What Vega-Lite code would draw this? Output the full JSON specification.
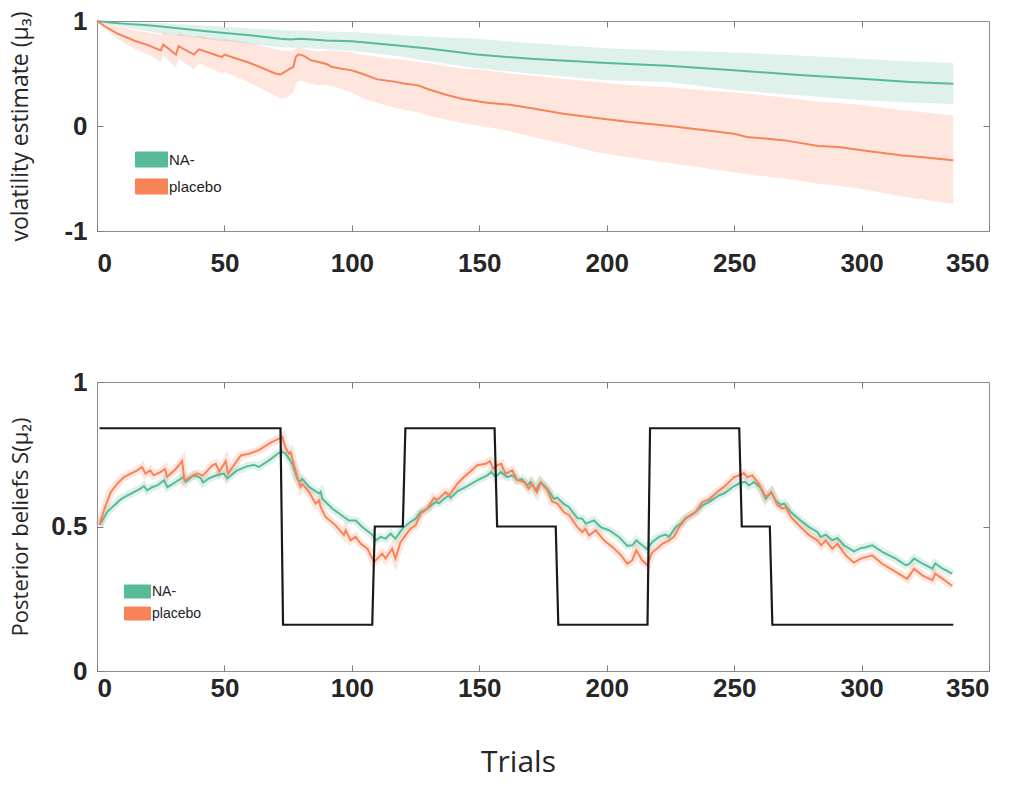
{
"$schema": "https://vega.github.io/schema/vega-lite/v6.json",
"padding": {"left": 8, "top": 7, "right": 0, "bottom": 0},
"background": "white",
"bounds": "flush",
"spacing": 151,
"resolve": {"legend": {"color": "independent"}},
"config": {
  "view": {"stroke": "#8c8c8c", "strokeWidth": 1},
  "axis": {"grid": false, "domain": false, "tickColor": "#7a7a7a", "tickSize": -6, "tickWidth": 1,
    "labelFont": "Liberation Sans", "labelFontWeight": "bold", "labelFontSize": 26, "labelColor": "#262626",
    "titleFont": "Open Sans", "titleFontWeight": "normal", "titleColor": "#262626"}
},
"datasets": {
"top": [
{"t":0,"g":"NA-","m":1,"lo":1,"hi":1},
{"t":5,"g":"NA-","m":0.985,"lo":0.97,"hi":0.995},
{"t":10,"g":"NA-","m":0.975,"lo":0.945,"hi":0.99},
{"t":20,"g":"NA-","m":0.96,"lo":0.9,"hi":0.985},
{"t":30,"g":"NA-","m":0.935,"lo":0.865,"hi":0.975},
{"t":40,"g":"NA-","m":0.91,"lo":0.835,"hi":0.96},
{"t":50,"g":"NA-","m":0.885,"lo":0.81,"hi":0.945},
{"t":60,"g":"NA-","m":0.864,"lo":0.78,"hi":0.93},
{"t":72,"g":"NA-","m":0.83,"lo":0.75,"hi":0.915},
{"t":76,"g":"NA-","m":0.825,"lo":0.745,"hi":0.91},
{"t":80,"g":"NA-","m":0.83,"lo":0.745,"hi":0.91},
{"t":90,"g":"NA-","m":0.815,"lo":0.73,"hi":0.9},
{"t":100,"g":"NA-","m":0.806,"lo":0.715,"hi":0.895},
{"t":117,"g":"NA-","m":0.768,"lo":0.67,"hi":0.87},
{"t":130,"g":"NA-","m":0.737,"lo":0.62,"hi":0.85},
{"t":149,"g":"NA-","m":0.68,"lo":0.55,"hi":0.83},
{"t":170,"g":"NA-","m":0.641,"lo":0.5,"hi":0.79},
{"t":200,"g":"NA-","m":0.6,"lo":0.435,"hi":0.74},
{"t":224,"g":"NA-","m":0.573,"lo":0.42,"hi":0.72},
{"t":250,"g":"NA-","m":0.53,"lo":0.34,"hi":0.7},
{"t":277,"g":"NA-","m":0.483,"lo":0.29,"hi":0.67},
{"t":300,"g":"NA-","m":0.45,"lo":0.245,"hi":0.64},
{"t":319,"g":"NA-","m":0.42,"lo":0.225,"hi":0.615},
{"t":336,"g":"NA-","m":0.403,"lo":0.21,"hi":0.6},
{"t":0,"g":"placebo","m":1,"lo":1,"hi":1},
{"t":3,"g":"placebo","m":0.95,"lo":0.93,"hi":0.98},
{"t":8,"g":"placebo","m":0.88,"lo":0.83,"hi":0.95},
{"t":15,"g":"placebo","m":0.81,"lo":0.73,"hi":0.91},
{"t":20,"g":"placebo","m":0.77,"lo":0.68,"hi":0.89},
{"t":25,"g":"placebo","m":0.72,"lo":0.61,"hi":0.87},
{"t":26,"g":"placebo","m":0.775,"lo":0.67,"hi":0.89},
{"t":31,"g":"placebo","m":0.68,"lo":0.56,"hi":0.86},
{"t":32,"g":"placebo","m":0.76,"lo":0.64,"hi":0.88},
{"t":38,"g":"placebo","m":0.68,"lo":0.54,"hi":0.85},
{"t":40,"g":"placebo","m":0.73,"lo":0.6,"hi":0.86},
{"t":49,"g":"placebo","m":0.657,"lo":0.5,"hi":0.82},
{"t":50,"g":"placebo","m":0.68,"lo":0.52,"hi":0.83},
{"t":60,"g":"placebo","m":0.6,"lo":0.41,"hi":0.79},
{"t":70,"g":"placebo","m":0.5,"lo":0.29,"hi":0.73},
{"t":72,"g":"placebo","m":0.49,"lo":0.26,"hi":0.72},
{"t":74,"g":"placebo","m":0.52,"lo":0.27,"hi":0.72},
{"t":76,"g":"placebo","m":0.55,"lo":0.3,"hi":0.72},
{"t":77,"g":"placebo","m":0.56,"lo":0.32,"hi":0.72},
{"t":78,"g":"placebo","m":0.657,"lo":0.4,"hi":0.74},
{"t":79,"g":"placebo","m":0.683,"lo":0.43,"hi":0.75},
{"t":81,"g":"placebo","m":0.67,"lo":0.43,"hi":0.74},
{"t":84,"g":"placebo","m":0.626,"lo":0.4,"hi":0.72},
{"t":87,"g":"placebo","m":0.61,"lo":0.39,"hi":0.71},
{"t":90,"g":"placebo","m":0.59,"lo":0.39,"hi":0.72},
{"t":92,"g":"placebo","m":0.565,"lo":0.38,"hi":0.72},
{"t":96,"g":"placebo","m":0.546,"lo":0.35,"hi":0.71},
{"t":100,"g":"placebo","m":0.53,"lo":0.32,"hi":0.7},
{"t":104,"g":"placebo","m":0.498,"lo":0.27,"hi":0.68},
{"t":110,"g":"placebo","m":0.444,"lo":0.22,"hi":0.66},
{"t":116,"g":"placebo","m":0.425,"lo":0.18,"hi":0.64},
{"t":121,"g":"placebo","m":0.403,"lo":0.15,"hi":0.63},
{"t":126,"g":"placebo","m":0.387,"lo":0.13,"hi":0.61},
{"t":130,"g":"placebo","m":0.35,"lo":0.1,"hi":0.6},
{"t":137,"g":"placebo","m":0.298,"lo":0.06,"hi":0.57},
{"t":143,"g":"placebo","m":0.26,"lo":0.03,"hi":0.55},
{"t":153,"g":"placebo","m":0.222,"lo":-0.01,"hi":0.53},
{"t":162,"g":"placebo","m":0.203,"lo":-0.05,"hi":0.5},
{"t":170,"g":"placebo","m":0.171,"lo":-0.1,"hi":0.48},
{"t":183,"g":"placebo","m":0.117,"lo":-0.17,"hi":0.45},
{"t":196,"g":"placebo","m":0.076,"lo":-0.25,"hi":0.42},
{"t":209,"g":"placebo","m":0.038,"lo":-0.3,"hi":0.39},
{"t":224,"g":"placebo","m":0.003,"lo":-0.35,"hi":0.37},
{"t":250,"g":"placebo","m":-0.073,"lo":-0.44,"hi":0.32},
{"t":255,"g":"placebo","m":-0.105,"lo":-0.46,"hi":0.31},
{"t":270,"g":"placebo","m":-0.137,"lo":-0.5,"hi":0.27},
{"t":283,"g":"placebo","m":-0.19,"lo":-0.55,"hi":0.23},
{"t":291,"g":"placebo","m":-0.2,"lo":-0.57,"hi":0.22},
{"t":300,"g":"placebo","m":-0.23,"lo":-0.6,"hi":0.2},
{"t":316,"g":"placebo","m":-0.28,"lo":-0.67,"hi":0.15},
{"t":321,"g":"placebo","m":-0.29,"lo":-0.69,"hi":0.14},
{"t":336,"g":"placebo","m":-0.327,"lo":-0.74,"hi":0.1}
],
"bot": [
{"t":1,"g":"NA-","m":0.505},{"t":4,"g":"NA-","m":0.55},{"t":6.7,"g":"NA-","m":0.573},{"t":9.3,"g":"NA-","m":0.594},
{"t":12,"g":"NA-","m":0.608},{"t":14.5,"g":"NA-","m":0.619},{"t":17,"g":"NA-","m":0.631},{"t":18.4,"g":"NA-","m":0.64},
{"t":19.7,"g":"NA-","m":0.625},{"t":21.6,"g":"NA-","m":0.636},{"t":23.7,"g":"NA-","m":0.642},{"t":26.3,"g":"NA-","m":0.66},
{"t":27.6,"g":"NA-","m":0.636},{"t":30.9,"g":"NA-","m":0.654},{"t":33.9,"g":"NA-","m":0.671},{"t":34.8,"g":"NA-","m":0.654},
{"t":38.1,"g":"NA-","m":0.679},{"t":40.7,"g":"NA-","m":0.667},{"t":41.6,"g":"NA-","m":0.652},{"t":44,"g":"NA-","m":0.667},
{"t":47.5,"g":"NA-","m":0.679},{"t":49.8,"g":"NA-","m":0.683},{"t":51.1,"g":"NA-","m":0.667},{"t":55,"g":"NA-","m":0.694},
{"t":59,"g":"NA-","m":0.709},{"t":61.6,"g":"NA-","m":0.713},{"t":63.5,"g":"NA-","m":0.706},{"t":67.5,"g":"NA-","m":0.729},
{"t":71.4,"g":"NA-","m":0.755},{"t":72.7,"g":"NA-","m":0.758},{"t":74,"g":"NA-","m":0.752},{"t":75.3,"g":"NA-","m":0.735},
{"t":76.6,"g":"NA-","m":0.717},{"t":78.6,"g":"NA-","m":0.665},{"t":79.4,"g":"NA-","m":0.654},{"t":80.5,"g":"NA-","m":0.665},
{"t":83.2,"g":"NA-","m":0.637},{"t":87.1,"g":"NA-","m":0.614},{"t":87.8,"g":"NA-","m":0.62},{"t":88.4,"g":"NA-","m":0.596},
{"t":92.3,"g":"NA-","m":0.562},{"t":96.9,"g":"NA-","m":0.533},{"t":98.8,"g":"NA-","m":0.521},{"t":101.5,"g":"NA-","m":0.521},
{"t":104.1,"g":"NA-","m":0.498},{"t":108,"g":"NA-","m":0.472},{"t":109.4,"g":"NA-","m":0.452},{"t":111.3,"g":"NA-","m":0.464},
{"t":113.2,"g":"NA-","m":0.458},{"t":115.2,"g":"NA-","m":0.475},{"t":117.1,"g":"NA-","m":0.458},{"t":119.8,"g":"NA-","m":0.492},
{"t":122.4,"g":"NA-","m":0.512},{"t":125,"g":"NA-","m":0.527},{"t":127,"g":"NA-","m":0.55},{"t":129.6,"g":"NA-","m":0.562},
{"t":132.9,"g":"NA-","m":0.585},{"t":134.2,"g":"NA-","m":0.58},{"t":136.2,"g":"NA-","m":0.596},{"t":138.2,"g":"NA-","m":0.608},
{"t":138.8,"g":"NA-","m":0.6},{"t":141.4,"g":"NA-","m":0.622},{"t":145.3,"g":"NA-","m":0.64},{"t":149.2,"g":"NA-","m":0.66},
{"t":153.2,"g":"NA-","m":0.677},{"t":154.7,"g":"NA-","m":0.689},{"t":156.4,"g":"NA-","m":0.671},{"t":158.4,"g":"NA-","m":0.689},
{"t":161,"g":"NA-","m":0.671},{"t":163,"g":"NA-","m":0.677},{"t":164.9,"g":"NA-","m":0.66},{"t":166.8,"g":"NA-","m":0.664},
{"t":168.8,"g":"NA-","m":0.642},{"t":170.1,"g":"NA-","m":0.654},{"t":172.1,"g":"NA-","m":0.625},{"t":174.1,"g":"NA-","m":0.654},
{"t":176.7,"g":"NA-","m":0.631},{"t":179.3,"g":"NA-","m":0.596},{"t":180.6,"g":"NA-","m":0.6},{"t":183.2,"g":"NA-","m":0.578},
{"t":185.2,"g":"NA-","m":0.567},{"t":188.5,"g":"NA-","m":0.529},{"t":190.4,"g":"NA-","m":0.527},{"t":191.7,"g":"NA-","m":0.51},
{"t":195,"g":"NA-","m":0.521},{"t":197.6,"g":"NA-","m":0.498},{"t":200.9,"g":"NA-","m":0.487},{"t":204.8,"g":"NA-","m":0.464},
{"t":208.1,"g":"NA-","m":0.433},{"t":210,"g":"NA-","m":0.435},{"t":211.6,"g":"NA-","m":0.452},{"t":213.9,"g":"NA-","m":0.435},
{"t":215.9,"g":"NA-","m":0.421},{"t":217.8,"g":"NA-","m":0.446},{"t":220.5,"g":"NA-","m":0.464},{"t":223.1,"g":"NA-","m":0.472},
{"t":224.4,"g":"NA-","m":0.464},{"t":227.1,"g":"NA-","m":0.498},{"t":229.1,"g":"NA-","m":0.51},{"t":231,"g":"NA-","m":0.529},
{"t":234.9,"g":"NA-","m":0.55},{"t":237.6,"g":"NA-","m":0.573},{"t":240.2,"g":"NA-","m":0.585},{"t":244.1,"g":"NA-","m":0.608},
{"t":246,"g":"NA-","m":0.614},{"t":250,"g":"NA-","m":0.64},{"t":252.6,"g":"NA-","m":0.652},{"t":254.5,"g":"NA-","m":0.654},
{"t":255.8,"g":"NA-","m":0.642},{"t":257.8,"g":"NA-","m":0.654},{"t":260.4,"g":"NA-","m":0.633},{"t":262.4,"g":"NA-","m":0.596},
{"t":264.6,"g":"NA-","m":0.619},{"t":266.3,"g":"NA-","m":0.59},{"t":268.3,"g":"NA-","m":0.575},{"t":269.6,"g":"NA-","m":0.58},
{"t":272.2,"g":"NA-","m":0.55},{"t":276.1,"g":"NA-","m":0.521},{"t":279.4,"g":"NA-","m":0.498},{"t":282.6,"g":"NA-","m":0.481},
{"t":284,"g":"NA-","m":0.464},{"t":285.9,"g":"NA-","m":0.472},{"t":288.5,"g":"NA-","m":0.452},{"t":290.5,"g":"NA-","m":0.46},
{"t":293.1,"g":"NA-","m":0.435},{"t":297,"g":"NA-","m":0.414},{"t":299.6,"g":"NA-","m":0.425},{"t":301.6,"g":"NA-","m":0.428},
{"t":304.2,"g":"NA-","m":0.435},{"t":308.1,"g":"NA-","m":0.412},{"t":313.4,"g":"NA-","m":0.389},{"t":317.3,"g":"NA-","m":0.366},
{"t":318.6,"g":"NA-","m":0.37},{"t":320.6,"g":"NA-","m":0.389},{"t":323.8,"g":"NA-","m":0.372},{"t":327.8,"g":"NA-","m":0.354},
{"t":328.9,"g":"NA-","m":0.372},{"t":331.8,"g":"NA-","m":0.354},{"t":335.6,"g":"NA-","m":0.337},
{"t":1,"g":"placebo","m":0.505},{"t":2.7,"g":"placebo","m":0.556},{"t":5.4,"g":"placebo","m":0.619},{"t":8,"g":"placebo","m":0.648},
{"t":10.6,"g":"placebo","m":0.671},{"t":13.2,"g":"placebo","m":0.683},{"t":15.8,"g":"placebo","m":0.694},{"t":17.7,"g":"placebo","m":0.706},
{"t":19,"g":"placebo","m":0.683},{"t":20.9,"g":"placebo","m":0.694},{"t":22.2,"g":"placebo","m":0.677},{"t":24.8,"g":"placebo","m":0.688},
{"t":26.7,"g":"placebo","m":0.699},{"t":27.5,"g":"placebo","m":0.672},{"t":31,"g":"placebo","m":0.7},{"t":33.4,"g":"placebo","m":0.726},
{"t":34.3,"g":"placebo","m":0.66},{"t":39.3,"g":"placebo","m":0.684},{"t":41.5,"g":"placebo","m":0.676},{"t":45.3,"g":"placebo","m":0.712},
{"t":46.6,"g":"placebo","m":0.717},{"t":48,"g":"placebo","m":0.69},{"t":50.5,"g":"placebo","m":0.726},{"t":51.4,"g":"placebo","m":0.683},
{"t":56.4,"g":"placebo","m":0.746},{"t":59.6,"g":"placebo","m":0.752},{"t":63.5,"g":"placebo","m":0.764},{"t":67.5,"g":"placebo","m":0.787},
{"t":71.4,"g":"placebo","m":0.804},{"t":72.7,"g":"placebo","m":0.81},{"t":73.3,"g":"placebo","m":0.79},{"t":74.2,"g":"placebo","m":0.769},
{"t":75.3,"g":"placebo","m":0.752},{"t":76,"g":"placebo","m":0.758},{"t":77.3,"g":"placebo","m":0.712},{"t":79.2,"g":"placebo","m":0.654},
{"t":79.9,"g":"placebo","m":0.637},{"t":80.5,"g":"placebo","m":0.648},{"t":83.2,"g":"placebo","m":0.619},{"t":85.8,"g":"placebo","m":0.579},
{"t":87.1,"g":"placebo","m":0.59},{"t":87.8,"g":"placebo","m":0.567},{"t":89.7,"g":"placebo","m":0.533},{"t":93.6,"g":"placebo","m":0.504},
{"t":96.9,"g":"placebo","m":0.47},{"t":97.6,"g":"placebo","m":0.487},{"t":99.5,"g":"placebo","m":0.452},{"t":101.5,"g":"placebo","m":0.464},
{"t":103.5,"g":"placebo","m":0.44},{"t":106.1,"g":"placebo","m":0.423},{"t":108.7,"g":"placebo","m":0.377},{"t":110,"g":"placebo","m":0.389},
{"t":111.9,"g":"placebo","m":0.406},{"t":113.2,"g":"placebo","m":0.389},{"t":115.8,"g":"placebo","m":0.423},{"t":117.1,"g":"placebo","m":0.389},
{"t":119.1,"g":"placebo","m":0.446},{"t":121.1,"g":"placebo","m":0.47},{"t":123,"g":"placebo","m":0.492},{"t":125,"g":"placebo","m":0.504},
{"t":127,"g":"placebo","m":0.544},{"t":129.6,"g":"placebo","m":0.562},{"t":132.2,"g":"placebo","m":0.599},{"t":133.5,"g":"placebo","m":0.592},
{"t":136.8,"g":"placebo","m":0.619},{"t":138.2,"g":"placebo","m":0.608},{"t":141.4,"g":"placebo","m":0.648},{"t":144,"g":"placebo","m":0.671},
{"t":146.6,"g":"placebo","m":0.691},{"t":149.2,"g":"placebo","m":0.712},{"t":152.5,"g":"placebo","m":0.717},{"t":154.2,"g":"placebo","m":0.726},
{"t":155.5,"g":"placebo","m":0.7},{"t":157.1,"g":"placebo","m":0.712},{"t":158.6,"g":"placebo","m":0.717},{"t":160.3,"g":"placebo","m":0.683},
{"t":163,"g":"placebo","m":0.694},{"t":164.9,"g":"placebo","m":0.66},{"t":167.5,"g":"placebo","m":0.654},{"t":169.4,"g":"placebo","m":0.631},
{"t":170.7,"g":"placebo","m":0.648},{"t":172.7,"g":"placebo","m":0.619},{"t":174.1,"g":"placebo","m":0.652},{"t":176.7,"g":"placebo","m":0.625},
{"t":178.6,"g":"placebo","m":0.586},{"t":180.6,"g":"placebo","m":0.579},{"t":183.2,"g":"placebo","m":0.55},{"t":185.2,"g":"placebo","m":0.539},
{"t":188.5,"g":"placebo","m":0.498},{"t":190.4,"g":"placebo","m":0.481},{"t":191.7,"g":"placebo","m":0.492},{"t":193.1,"g":"placebo","m":0.469},
{"t":195.7,"g":"placebo","m":0.487},{"t":198.9,"g":"placebo","m":0.452},{"t":202.2,"g":"placebo","m":0.429},{"t":205.5,"g":"placebo","m":0.402},
{"t":208.1,"g":"placebo","m":0.371},{"t":210,"g":"placebo","m":0.383},{"t":211.6,"g":"placebo","m":0.418},{"t":213.9,"g":"placebo","m":0.383},
{"t":215.9,"g":"placebo","m":0.366},{"t":217.8,"g":"placebo","m":0.41},{"t":220.5,"g":"placebo","m":0.429},{"t":221.8,"g":"placebo","m":0.44},
{"t":224.4,"g":"placebo","m":0.452},{"t":226.4,"g":"placebo","m":0.464},{"t":228.4,"g":"placebo","m":0.498},{"t":231,"g":"placebo","m":0.527},
{"t":234.9,"g":"placebo","m":0.55},{"t":237.6,"g":"placebo","m":0.585},{"t":240.2,"g":"placebo","m":0.594},{"t":244.1,"g":"placebo","m":0.625},
{"t":246,"g":"placebo","m":0.637},{"t":250,"g":"placebo","m":0.671},{"t":252.6,"g":"placebo","m":0.679},{"t":253.8,"g":"placebo","m":0.685},
{"t":255.1,"g":"placebo","m":0.671},{"t":257.1,"g":"placebo","m":0.677},{"t":259.7,"g":"placebo","m":0.648},{"t":262.4,"g":"placebo","m":0.602},
{"t":264.6,"g":"placebo","m":0.619},{"t":267,"g":"placebo","m":0.573},{"t":269,"g":"placebo","m":0.562},{"t":270.3,"g":"placebo","m":0.567},
{"t":272.2,"g":"placebo","m":0.533},{"t":276.1,"g":"placebo","m":0.498},{"t":279.4,"g":"placebo","m":0.47},{"t":282.6,"g":"placebo","m":0.452},
{"t":284.2,"g":"placebo","m":0.435},{"t":285.9,"g":"placebo","m":0.452},{"t":288.5,"g":"placebo","m":0.423},{"t":290.5,"g":"placebo","m":0.44},
{"t":293.8,"g":"placebo","m":0.4},{"t":297,"g":"placebo","m":0.375},{"t":299.6,"g":"placebo","m":0.389},{"t":304.2,"g":"placebo","m":0.4},
{"t":308.1,"g":"placebo","m":0.371},{"t":313.4,"g":"placebo","m":0.343},{"t":317.9,"g":"placebo","m":0.319},{"t":320.6,"g":"placebo","m":0.354},
{"t":323.8,"g":"placebo","m":0.331},{"t":327.8,"g":"placebo","m":0.314},{"t":328.9,"g":"placebo","m":0.337},{"t":331.8,"g":"placebo","m":0.319},
{"t":335.6,"g":"placebo","m":0.294}
],
"truth": [
{"t":1,"p":0.84},{"t":72,"p":0.84},{"t":73,"p":0.16},{"t":108,"p":0.16},{"t":109,"p":0.5},{"t":120,"p":0.5},
{"t":121,"p":0.84},{"t":156,"p":0.84},{"t":157,"p":0.5},{"t":180,"p":0.5},{"t":181,"p":0.16},{"t":216,"p":0.16},
{"t":217,"p":0.84},{"t":252,"p":0.84},{"t":253,"p":0.5},{"t":264,"p":0.5},{"t":265,"p":0.16},{"t":336,"p":0.16}
]
},
"vconcat": [
{
  "width": 892, "height": 210,
  "resolve": {"axis": {"x": "independent", "y": "independent"}},
  "layer": [
    {"data": {"name": "top"}, "mark": {"type": "area", "opacity": 0.2},
     "encoding": {
      "x": {"field": "t", "type": "quantitative", "scale": {"domain": [0, 350], "nice": false},
            "axis": {"orient": "bottom", "values": [0,50,100,150,200,250,300,350], "title": null, "labelPadding": 25}},
      "y": {"field": "lo", "type": "quantitative", "scale": {"domain": [-1, 1], "nice": false},
            "axis": {"orient": "left", "values": [-1,0,1], "labelExpr": "toString(datum.value)", "labelPadding": 16,
                     "title": "volatility estimate (μ₃)", "titleFontSize": 23, "titleX": -65, "titleY": 105, "titleBaseline": "bottom"}},
      "y2": {"field": "hi"},
      "color": {"field": "g", "type": "nominal", "scale": {"domain": ["NA-", "placebo"], "range": ["#58bb98", "#f88358"]}}
    }},
    {"data": {"name": "top"}, "mark": {"type": "line", "strokeWidth": 2},
     "encoding": {
      "x": {"field": "t", "type": "quantitative", "axis": {"orient": "top", "values": [50,100,150,200,250,300], "labels": false, "title": null}},
      "y": {"field": "m", "type": "quantitative", "axis": {"orient": "right", "values": [0], "labels": false, "title": null}},
      "color": {"field": "g", "type": "nominal",
        "legend": {"orient": "none", "legendX": 38, "legendY": 122, "title": null, "padding": 0,
          "symbolType": "M-1,-0.47H1V0.47H-1Z", "symbolSize": 1024, "rowPadding": -8,
          "symbolStrokeColor": "#555", "symbolStrokeWidth": 1,
          "labelFont": "Liberation Sans", "labelFontSize": 15, "labelFontWeight": "normal", "labelColor": "#222", "labelOffset": 1,
          "encode": {"symbols": {"update": {"fill": {"scale": "color", "field": "value"}, "stroke": {"value": "#555"}, "strokeWidth": {"value": 1}, "opacity": {"value": 1}}}}}}
    }}
  ]
},
{
  "width": 892, "height": 289,
  "resolve": {"axis": {"x": "independent", "y": "independent"}},
  "layer": [
    {"data": {"name": "bot"}, "mark": {"type": "line", "strokeWidth": 8, "opacity": 0.2},
     "encoding": {
      "x": {"field": "t", "type": "quantitative", "scale": {"domain": [0, 350], "nice": false},
            "axis": {"orient": "bottom", "values": [0,50,100,150,200,250,300,350], "labelPadding": 10,
                     "title": "Trials", "titleFontSize": 30, "titleX": 421, "titleY": 100, "titleBaseline": "alphabetic"}},
      "y": {"field": "m", "type": "quantitative", "scale": {"domain": [0, 1], "nice": false},
            "axis": {"orient": "left", "values": [0,0.5,1], "labelExpr": "toString(datum.value)", "labelPadding": 16,
                     "title": "Posterior beliefs S(μ₂)", "titleFontSize": 22, "titleX": -65, "titleY": 144.5, "titleBaseline": "bottom"}},
      "color": {"field": "g", "type": "nominal"}
    }},
    {"data": {"name": "bot"}, "mark": {"type": "line", "strokeWidth": 2},
     "encoding": {
      "x": {"field": "t", "type": "quantitative", "axis": {"orient": "top", "values": [50,100,150,200,250,300], "labels": false, "title": null}},
      "y": {"field": "m", "type": "quantitative", "axis": {"orient": "right", "values": [0.5], "labels": false, "title": null}},
      "color": {"field": "g", "type": "nominal",
        "legend": {"orient": "none", "legendX": 27, "legendY": 196, "title": null, "padding": 0,
          "symbolType": "M-1,-0.5H1V0.5H-1Z", "symbolSize": 676, "rowPadding": -4,
          "symbolStrokeColor": "#555", "symbolStrokeWidth": 1,
          "labelFont": "Liberation Sans", "labelFontSize": 14, "labelFontWeight": "normal", "labelColor": "#222", "labelOffset": 1,
          "encode": {"symbols": {"update": {"fill": {"scale": "color", "field": "value"}, "stroke": {"value": "#555"}, "strokeWidth": {"value": 1}, "opacity": {"value": 1}}}}}}
    }},
    {"data": {"name": "truth"}, "mark": {"type": "line", "color": "#1a1a1a", "strokeWidth": 2.2},
     "encoding": {
      "x": {"field": "t", "type": "quantitative", "axis": null},
      "y": {"field": "p", "type": "quantitative", "axis": null}
    }}
  ]
}
]
}
